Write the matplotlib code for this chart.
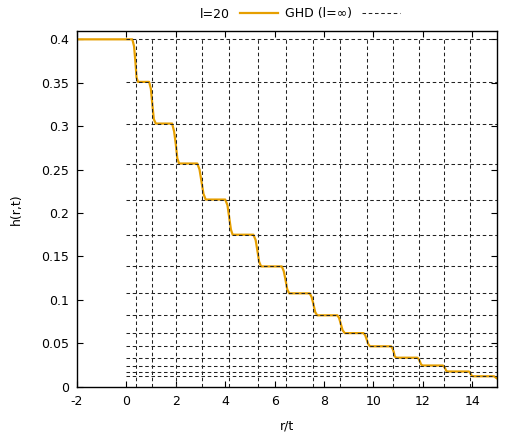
"""Staircase profile h(r,t) vs r/t: l=20 simulation against the GHD (l=inf) steps."""

import matplotlib
matplotlib.use("Agg")
import matplotlib.pyplot as plt

# ── Data ──────────────────────────────────────────────────────────────
# l=20 curve, traced along plateaus and step edges
L20_X = [-2.00, 0.24, 0.31, 0.37, 0.41, 0.47,
         0.92, 0.99, 1.05, 1.11, 1.19,
         1.85, 1.93, 2.00, 2.06, 2.13,
         2.87, 2.96, 3.04, 3.12, 3.21,
         4.00, 4.09, 4.16, 4.23, 4.30,
         5.14, 5.23, 5.30, 5.37, 5.45,
         6.29, 6.37, 6.44, 6.51, 6.59,
         7.42, 7.50, 7.57, 7.64, 7.72,
         8.54, 8.61, 8.68, 8.75, 8.84,
         9.60, 9.67, 9.73, 9.79, 9.86,
         10.71, 10.77, 10.82, 10.86, 10.92,
         11.77, 11.83, 11.88, 11.92, 11.98,
         12.81, 12.86, 12.90, 12.94, 12.99,
         13.86, 13.90, 13.94, 13.98, 14.03,
         14.88, 14.95, 15.00]
L20_Y = [0.400, 0.400, 0.392, 0.372, 0.356, 0.351,
         0.351, 0.343, 0.325, 0.308, 0.303,
         0.303, 0.294, 0.279, 0.263, 0.257,
         0.257, 0.250, 0.236, 0.222, 0.2155,
         0.2155, 0.209, 0.195, 0.181, 0.175,
         0.175, 0.169, 0.157, 0.144, 0.1385,
         0.1385, 0.133, 0.123, 0.112, 0.1075,
         0.1075, 0.103, 0.095, 0.086, 0.0822,
         0.0822, 0.079, 0.072, 0.065, 0.0617,
         0.0617, 0.059, 0.054, 0.049, 0.0465,
         0.0465, 0.044, 0.040, 0.035, 0.0334,
         0.0334, 0.032, 0.029, 0.026, 0.0244,
         0.0244, 0.023, 0.021, 0.0185, 0.0175,
         0.0175, 0.0165, 0.0145, 0.0125, 0.012,
         0.012, 0.0105, 0.0095]

# GHD (l=inf): step positions and plateau levels
GHD_STEPS = [0.37, 1.04, 1.99, 3.04, 4.17, 5.31, 6.44, 7.55,
             8.65, 9.73, 10.80, 11.84, 12.87, 13.91]
GHD_LEVELS = [0.400, 0.351, 0.303, 0.257, 0.2155, 0.175, 0.1385, 0.1075,
              0.0822, 0.0617, 0.0465, 0.0334, 0.0244, 0.0175, 0.012]

X_TICKS = [-2, 0, 2, 4, 6, 8, 10, 12, 14]
Y_TICKS = [0, 0.05, 0.1, 0.15, 0.2, 0.25, 0.3, 0.35, 0.4]
Y_TICK_LABELS = ["0", "0.05", "0.1", "0.15", "0.2", "0.25", "0.3", "0.35", "0.4"]

ORANGE = "#e69f00"
FS = 9

plt.rcParams.update({
    "font.family": "DejaVu Sans",
    "font.size": FS,
})

fig = plt.figure(figsize=(5.23, 4.36), dpi=100)
ax = fig.add_axes([77 / 523, 1 - 386.7 / 436, 420 / 523, 355.7 / 436])

ax.plot(L20_X, L20_Y, color=ORANGE, lw=1.6, label="l=20", zorder=2)

dash = dict(color="#222222", lw=0.75, dashes=(3.4, 2.6), zorder=3)
for i, lv in enumerate(GHD_LEVELS):
    ax.plot([0, 15], [lv, lv], label="GHD (l=∞)" if i == 0 else None, **dash)
for xs in GHD_STEPS:
    ax.plot([xs, xs], [0, 0.4], **dash)

ax.set_xlim(-2, 15)
ax.set_ylim(0, 0.4096)
ax.set_xticks(X_TICKS)
ax.set_xticklabels([str(t) for t in X_TICKS])
ax.set_yticks(Y_TICKS)
ax.set_yticklabels(Y_TICK_LABELS)
ax.tick_params(direction="in", length=4, width=0.8, top=True, right=True,
               labelsize=FS, pad=6)
for sp in ax.spines.values():
    sp.set_linewidth(1.0)

ax.set_xlabel("r/t", fontsize=FS, labelpad=8)
ax.set_ylabel("h(r,t)", fontsize=FS, labelpad=13)

fig.legend(loc="center", bbox_to_anchor=(300 / 523, 1 - 14 / 436), ncol=2,
           frameon=False, markerfirst=False, fontsize=FS,
           handlelength=3.0, handletextpad=0.8, columnspacing=0.6)

fig.savefig("out.png", dpi=100)
